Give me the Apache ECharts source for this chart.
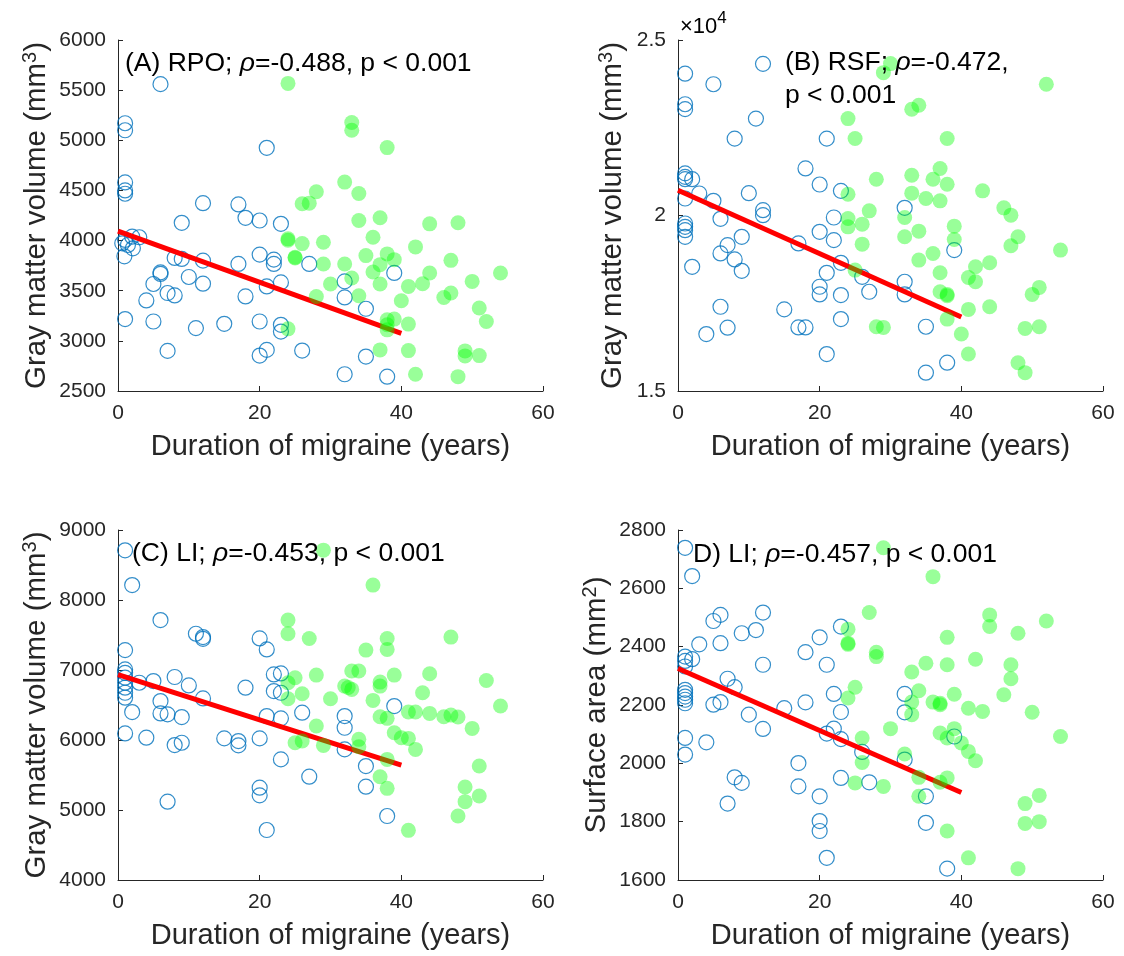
<!DOCTYPE html>
<html>
<head>
<meta charset="utf-8">
<script src="https://cdn.jsdelivr.net/npm/echarts@6/dist/echarts.min.js"></script>
<style>
html,body{margin:0;padding:0;background:#fff;}
#chart{width:1124px;height:956px;}
</style>
</head>
<body>
<div id="chart"></div>
<script>
// ---------------- DATA ----------------
const xTicks = [0, 20, 40, 60];
const fitX = [0, 40];

// Panel A: RPO gray matter volume (mm3)
const aBlue = [[6,5560],[1,5170],[1,5100],[21,4925],[1,4580],[1,4500],[1,4467],[12,4373],[17,4360],[18,4227],[20,4200],[23,4167],[9,4177],
 [1,4006],[2,4039],[3,4033],[0.6,3973],[1.4,3956],[2.1,3923],[0.9,3843],
 [20,3860],[22,3810],[22,3767],[8,3827],[9,3817],[12,3800],[17,3767],[27,3767],[6,3683],[6,3667],[5,3567],[10,3637],[12,3570],[21,3543],[23,3583],[32,3593],[39,3677],[4,3403],[7,3477],[8,3453],[18,3443],[32,3433],[35,3320],[1,3217],[5,3193],[11,3127],[15,3170],[20,3193],[23,3160],[23,3093],[7,2900],[20,2853],[21,2910],[26,2903],[35,2843],[32,2667],[38,2643]];
const aGreen = [[24,5567],[33,5177],[33,5100],[38,4927],[32,4583],[28,4487],[34,4470],[26,4367],[27,4373],[34,4200],[37,4227],[44,4167],[48,4177],[24,4017],[24,4003],[26,3970],[29,3983],[36,4033],[42,3937],[25,3827],[25,3833],[35,3850],[38,3867],[39,3810],[29,3767],[32,3767],[37,3760],[47,3803],[36,3687],[44,3677],[54,3677],[33,3627],[30,3567],[37,3567],[43,3570],[41,3543],[50,3593],[28,3443],[34,3450],[46,3433],[47,3477],[40,3400],[51,3327],[38,3210],[39,3217],[38,3160],[38,3110],[41,3167],[52,3193],[24,3120],[37,2910],[41,2903],[49,2900],[49,2850],[51,2853],[42,2667],[48,2643]];
const aFit = [4095, 3075];
const aTicks = [2500, 3000, 3500, 4000, 4500, 5000, 5500, 6000];

// Panel B: RSF gray matter volume (mm3)
const bBlue = [[12,24320],[1,24040],[5,23740],[1,23170],[1,23030],[11,22760],[8,22190],[21,22190],[18,21340],[1,21200],[1,21034],[2,21034],[1,21100],[20,20883],[23,20702],[10,20636],[3,20627],[1,20484],[5,20418],[12,20152],[12,20010],[32,20218],[6,19905],[1,19772],[1,19677],[1,19582],[1,19393],[22,19943],[9,19393],[20,19535],[22,19298],[17,19203],[7,19156],[6,18919],[8,18748],[39,19014],[2,18539],[9,18425],[23,18653],[21,18368],[20,17970],[20,17752],[23,17733],[26,18254],[27,17827],[32,18112],[32,17752],[6,17400],[15,17325],[7,16803],[4,16622],[17,16812],[18,16812],[23,17049],[35,16831],[21,16053],[38,15806],[35,15522]];
const bGreen = [[30,24327],[29,24070],[52,23738],[33,23027],[34,23141],[24,22761],[25,22192],[38,22192],[37,21338],[28,21034],[33,21148],[36,21034],[38,20892],[43,20702],[24,20607],[33,20636],[35,20484],[37,20418],[46,20218],[47,20010],[27,20133],[24,19915],[24,19677],[26,19753],[32,19943],[39,19697],[34,19554],[32,19393],[39,19317],[48,19393],[47,19137],[26,19184],[54,19014],[36,18919],[34,18729],[42,18539],[44,18653],[25,18444],[37,18368],[41,18235],[42,18112],[37,17827],[38,17752],[38,17714],[51,17951],[50,17752],[41,17325],[44,17400],[38,17049],[28,16831],[29,16812],[40,16622],[49,16784],[51,16831],[41,16053],[48,15806],[49,15522]];
const bFit = [20720, 17110];
const bTicks = [15000, 20000, 25000];

// Panel C: LI gray matter volume (mm3)
const cBlue = [[1,8710],[2,8213],[6,7713],[11,7518],[12,7470],[12,7446],[20,7451],[21,7294],[1,7284],[1,7008],[1,6960],[1,6890],[1,6818],[1,6747],[1,6675],[1,6604],[3,6818],[5,6842],[8,6900],[10,6780],[12,6594],[6,6556],[2,6399],[6,6380],[7,6366],[9,6328],[18,6747],[22,6937],[23,6951],[22,6699],[23,6675],[21,6342],[23,6309],[26,6390],[39,6485],[32,6342],[32,6175],[1,6094],[4,6033],[15,6023],[17,5985],[17,5923],[20,6023],[8,5928],[9,5961],[32,5866],[23,5723],[35,5628],[27,5476],[35,5333],[20,5319],[20,5209],[7,5119],[38,4914],[21,4714]];
const cGreen = [[29,8712],[36,8213],[24,7713],[24,7518],[27,7451],[38,7451],[38,7294],[47,7470],[35,7284],[33,6985],[34,6985],[25,6890],[28,6927],[39,6927],[44,6946],[52,6851],[24,6818],[32,6770],[33,6723],[32.5,6750],[37,6827],[37,6770],[26,6661],[43,6675],[24,6590],[30,6590],[36,6566],[54,6485],[37,6332],[38,6309],[41,6399],[42,6399],[44,6380],[46,6332],[47,6356],[48,6328],[28,6199],[50,6166],[39,6104],[40,6033],[41,6023],[34,6009],[25,5961],[26,5985],[29,5923],[34,5904],[42,5866],[38,5723],[51,5628],[37,5476],[38,5309],[49,5328],[51,5200],[49,5119],[48,4914],[41,4709]];
const cFit = [6935, 5640];
const cTicks = [4000, 5000, 6000, 7000, 8000, 9000];

// Panel D: LI surface area (mm2)
const dBlue = [[1,2739],[2,2642],[6,2509],[5,2488],[12,2517],[9,2446],[11,2457],[23,2469],[20,2432],[3,2408],[6,2412],[1,2366],[1,2351],[2,2357],[1,2332],[18,2381],[12,2338],[21,2338],[7,2290],[8,2261],[1,2252],[1,2241],[1,2229],[1,2218],[1,2206],[22,2238],[32,2238],[5,2201],[6,2210],[15,2189],[18,2209],[23,2176],[32,2175],[10,2167],[12,2118],[22,2119],[21,2102],[23,2083],[39,2092],[1,2087],[4,2072],[1,2030],[26,2039],[32,2013],[17,2001],[8,1952],[9,1933],[23,1950],[27,1935],[17,1921],[20,1887],[35,1887],[7,1862],[20,1802],[20,1768],[35,1796],[21,1676],[38,1639]];
const dGreen = [[29,2739],[36,2640],[27,2517],[44,2509],[44,2469],[52,2488],[48,2446],[24,2460],[38,2432],[24,2408],[24,2412],[28,2381],[28,2366],[42,2357],[35,2343],[38,2338],[47,2338],[33,2313],[47,2290],[25,2261],[34,2249],[39,2237],[46,2235],[24,2224],[33,2210],[36,2210],[37,2206],[37,2201],[41,2189],[43,2178],[50,2175],[33,2167],[30,2119],[39,2119],[37,2104],[38,2087],[40,2070],[54,2092],[26,2087],[41,2041],[32,2032],[42,2009],[26,2003],[34,1952],[25,1933],[29,1921],[37,1935],[38,1950],[34,1887],[51,1890],[49,1862],[49,1794],[51,1800],[38,1768],[41,1676],[48,1639]];
const dFit = [2325, 1900];
const dTicks = [1600, 1800, 2000, 2200, 2400, 2600, 2800];

const xTitle = 'Duration of migraine (years)';
const labels = [
  ['(A) RPO; ', 'ρ', '=-0.488, p < 0.001'],
  ['(B) RSF; ', 'ρ', '=-0.472,\np < 0.001'],
  ['(C) LI; ', 'ρ', '=-0.453, p < 0.001'],
  ['D) LI; ', 'ρ', '=-0.457, p < 0.001']
];

// ---------------- STYLE / LAYOUT ----------------
const FONT = "'Liberation Sans', Arial, Helvetica, sans-serif";
const AX = '#262626';
const grids = [
  {left:118, top:40, width:425, height:351},
  {left:678, top:40, width:425, height:351},
  {left:118, top:530, width:425, height:350},
  {left:678, top:530, width:425, height:350}
];
const panels = [
  {blue:aBlue, green:aGreen, fit:aFit, ticks:aTicks, unit:'3', yname:'Gray matter volume (mm', gap:65, fmt:v=>String(v)},
  {blue:bBlue, green:bGreen, fit:bFit, ticks:bTicks, unit:'3', yname:'Gray matter volume (mm', gap:49, fmt:v=>String(v/10000)},
  {blue:cBlue, green:cGreen, fit:cFit, ticks:cTicks, unit:'3', yname:'Gray matter volume (mm', gap:65, fmt:v=>String(v)},
  {blue:dBlue, green:dGreen, fit:dFit, ticks:dTicks, unit:'2', yname:'Surface area (mm', gap:65, fmt:v=>String(v)}
];

const axisLine = {show:true, onZero:false, lineStyle:{color:AX, width:1}};
const axisTick = {show:true, inside:true, length:5, lineStyle:{color:AX, width:1}};

const xAxes = [], yAxes = [], series = [];
panels.forEach((p, i) => {
  xAxes.push({
    gridIndex:i, type:'value', min:xTicks[0], max:xTicks[xTicks.length-1], interval:xTicks[1]-xTicks[0],
    name:xTitle, nameLocation:'middle', nameGap:41,
    nameTextStyle:{fontSize:29, color:AX, fontFamily:FONT},
    axisLine, axisTick,
    axisLabel:{fontSize:21, color:AX, margin:12, fontFamily:FONT},
    splitLine:{show:false}
  });
  yAxes.push({
    gridIndex:i, type:'value', min:p.ticks[0], max:p.ticks[p.ticks.length-1], interval:p.ticks[1]-p.ticks[0],
    name:'{a|' + p.yname + '}{s|' + p.unit + '}{a|)}', nameLocation:'middle', nameGap:p.gap,
    nameTextStyle:{color:AX, fontFamily:FONT, rich:{
      a:{fontSize:29.5, color:AX, fontFamily:FONT, lineHeight:33},
      s:{fontSize:20, color:AX, fontFamily:FONT, verticalAlign:'top', lineHeight:20}
    }},
    axisLine, axisTick,
    axisLabel:{fontSize:21, color:AX, margin:12, fontFamily:FONT, formatter:p.fmt},
    splitLine:{show:false}
  });
  series.push({
    type:'scatter', xAxisIndex:i, yAxisIndex:i, data:p.blue, symbol:'circle', symbolSize:15,
    itemStyle:{color:'rgba(0,0,0,0)', borderColor:'#0072BD', borderWidth:1.2}, silent:true, z:2
  });
  series.push({
    type:'line', xAxisIndex:i, yAxisIndex:i, data:fitX.map((x,k)=>[x, p.fit[k]]), showSymbol:false, symbol:'none',
    lineStyle:{color:'#FF0000', width:5}, silent:true, z:3
  });
  series.push({
    type:'scatter', xAxisIndex:i, yAxisIndex:i, data:p.green, symbol:'circle', symbolSize:15,
    itemStyle:{color:'rgba(0,255,0,0.5)', borderWidth:0}, silent:true, z:4
  });
});

const labelPos = [[125, 50], [785, 49], [132, 540], [693, 541]];
const richLab = {
  n:{fontSize:26.5, color:'#000', fontFamily:FONT, lineHeight:33},
  i:{fontSize:26.5, color:'#000', fontFamily:FONT, fontStyle:'italic', lineHeight:33}
};
const graphics = labels.map((l, i) => {
  let txt;
  if (l[2].indexOf('\n') >= 0) {
    const parts = l[2].split('\n');
    txt = '{n|' + l[0] + '}{i|' + l[1] + '}{n|' + parts[0] + '}\n{n|' + parts[1] + '}';
  } else {
    txt = '{n|' + l[0] + '}{i|' + l[1] + '}{n|' + l[2] + '}';
  }
  return {type:'text', left:labelPos[i][0], top:labelPos[i][1], z:100,
    style:{text:txt, rich:richLab, font:'26.5px ' + FONT, fill:'#000'}};
});
graphics.push({type:'text', left:680, top:10, z:100,
  style:{text:'{a|×10}{s|4}', rich:{
    a:{fontSize:22, color:AX, fontFamily:FONT, lineHeight:34},
    s:{fontSize:17, color:AX, fontFamily:FONT, verticalAlign:'top', lineHeight:17}
  }}});

const chart = echarts.init(document.getElementById('chart'), null, {renderer:'canvas'});
chart.setOption({
  animation:false,
  backgroundColor:'#fff',
  textStyle:{fontFamily:FONT},
  grid:grids,
  xAxis:xAxes,
  yAxis:yAxes,
  series:series,
  graphic:graphics
});
</script>
</body>
</html>
